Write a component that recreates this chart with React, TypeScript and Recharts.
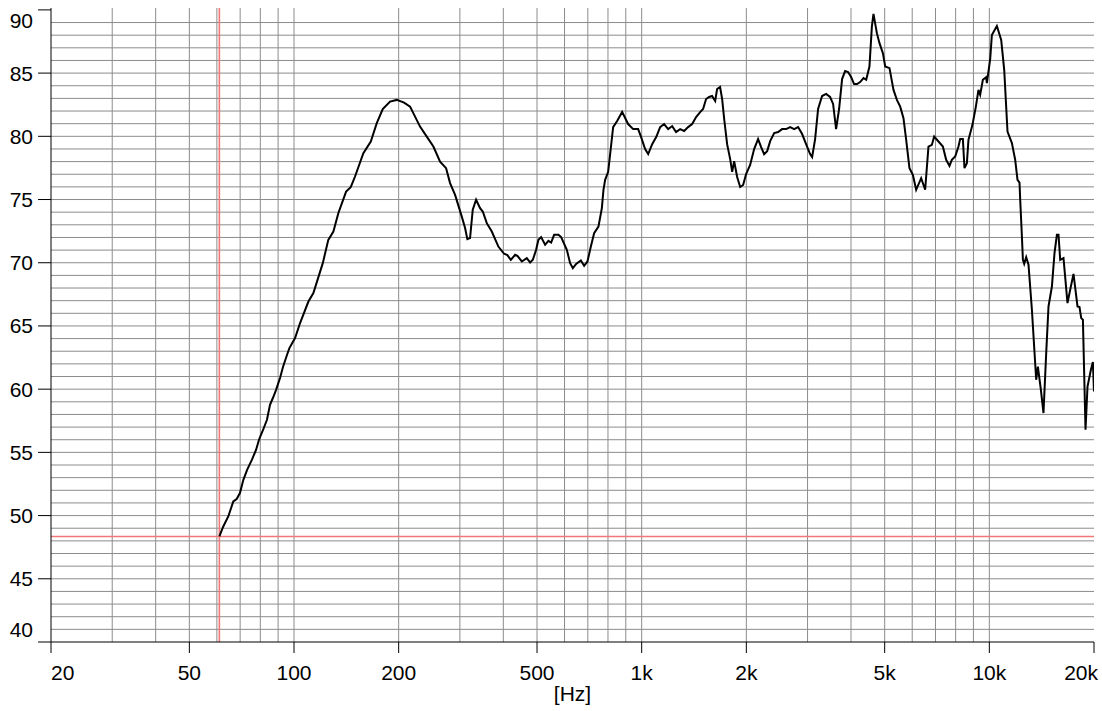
import React from 'react';
import {
  LineChart,
  Line,
  XAxis,
  YAxis,
  CartesianGrid,
  ReferenceLine,
} from 'recharts';

// frequency [Hz] and level [dB]
const freqs = [
  61, 62.6, 64.7, 66.9, 68.4, 69.9, 71.5, 73.3, 75.7, 77.8, 79.3, 81.5, 83.6, 85.3, 87, 88.8,
  91.2, 93, 95.5, 97, 100.7, 104.1, 110, 113.7, 121, 125.5, 129.8, 134.1, 141.2, 145.6, 149.8,
  158.3, 166.3, 173, 180, 188.9, 197.5, 207.3, 215.7, 230.4, 240.9, 251.7, 263.1, 273.8, 281.1,
  290.6, 303.8, 310.5, 315.2, 320.9, 326.7, 334, 342.9, 349.1, 358.5, 370.6, 387.1, 402, 410.9,
  420.3, 432.5, 439.1, 452.1, 467.3, 477.7, 486.3, 497, 504.7, 513.8, 527.6, 539.2, 549, 560,
  576.2, 586.6, 609.1, 622.6, 633.9, 647.9, 668.4, 683.2, 698.3, 714.2, 729.9, 751, 768.2, 776.4,
  785.1, 800.9, 827.8, 850, 878.6, 914.2, 945, 976.8, 996.4, 1023, 1044, 1072, 1101, 1130, 1160,
  1192, 1224, 1256, 1290, 1325, 1360, 1397, 1434, 1473, 1502, 1532, 1563, 1594, 1627, 1648, 1681,
  1704, 1727, 1761, 1797, 1821, 1845, 1882, 1920, 1958, 1997, 2051, 2106, 2162, 2206, 2250, 2296,
  2342, 2405, 2469, 2535, 2604, 2673, 2745, 2818, 2894, 2971, 3051, 3092, 3154, 3217, 3303, 3392,
  3483, 3553, 3624, 3697, 3771, 3847, 3924, 4003, 4083, 4165, 4249, 4346, 4424, 4520, 4593, 4642,
  4748, 4831, 4941, 5017, 5162, 5301, 5421, 5541, 5663, 5765, 5892, 6026, 6159, 6366, 6537, 6682,
  6834, 6939, 7140, 7351, 7513, 7679, 7802, 7975, 8151, 8243, 8392, 8481, 8617, 8709, 8942, 9146,
  9305, 9410, 9580, 9792, 9838, 10055, 10169, 10512, 10817, 11035, 11278, 11611, 11868, 12050,
  12211, 12268, 12407, 12489, 12597, 12765, 12961, 13256, 13638, 13792, 14069, 14314, 14573,
  14797, 15134, 15396, 15643, 15810, 15989, 16342, 16780, 17083, 17461, 17930, 18169, 18375,
  18583, 18907, 19158, 19594, 19854, 20000,
];

const spl = [
  48.35, 49.14, 49.93, 51.12, 51.31, 51.78, 52.83, 53.62, 54.42, 55.21, 56.0, 56.79, 57.58, 58.76,
  59.32, 59.95, 60.9, 61.77, 62.72, 63.25, 64.04, 65.23, 66.93, 67.6, 69.97, 71.81, 72.47, 73.92,
  75.63, 75.98, 76.82, 78.67, 79.59, 81.04, 82.15, 82.75, 82.88, 82.67, 82.35, 80.77, 79.98, 79.19,
  78.0, 77.48, 76.3, 75.37, 73.65, 72.74, 71.87, 71.95, 74.19, 74.98, 74.32, 74.05, 73.13, 72.47,
  71.28, 70.71, 70.6, 70.23, 70.63, 70.55, 70.1, 70.37, 70.02, 70.23, 71.02, 71.81, 72.03, 71.42,
  71.73, 71.6, 72.21, 72.21, 72.03, 71.02, 69.97, 69.57, 69.91, 70.18, 69.76, 70.1, 71.28, 72.34,
  72.86, 74.32, 75.77, 76.56, 77.19, 80.73, 81.21, 81.93, 80.97, 80.57, 80.57, 79.94, 78.99, 78.59,
  79.38, 79.94, 80.73, 80.97, 80.57, 80.81, 80.34, 80.57, 80.42, 80.73, 80.97, 81.52, 81.92, 82.16,
  82.95, 83.11, 83.19, 82.79, 83.74, 83.9, 82.95, 81.37, 79.38, 78.2, 77.19, 78.04, 76.78, 75.99,
  76.15, 77.02, 77.73, 78.99, 79.78, 79.15, 78.59, 78.83, 79.62, 80.26, 80.34, 80.57, 80.57, 80.73,
  80.57, 80.73, 80.18, 79.38, 78.59, 78.36, 79.78, 82.16, 83.19, 83.35, 83.11, 82.56, 80.57, 82.16,
  84.53, 85.16, 85.08, 84.69, 84.13, 84.13, 84.29, 84.6, 84.47, 85.52, 88.68, 89.68, 88.16, 87.37,
  86.58, 85.52, 85.39, 83.67, 82.88, 82.35, 81.44, 79.72, 77.48, 76.95, 75.77, 76.69, 75.77, 79.19,
  79.32, 79.98, 79.59, 79.19, 78.14, 77.66, 78.14, 78.4, 79.19, 79.78, 79.78, 77.48, 77.88, 79.72,
  80.91, 82.35, 83.67, 83.28, 84.47, 84.68, 84.2, 86.1, 88.02, 88.73, 87.63, 85.26, 80.38, 79.46,
  78.14, 76.56, 76.34, 74.98, 72.07, 70.23, 69.91, 70.44, 69.84, 66.28, 60.74, 61.79, 59.95, 58.11,
  62.85, 66.54, 68.12, 70.76, 72.21, 72.21, 70.23, 70.37, 66.81, 67.86, 69.12, 66.54, 66.49, 65.62,
  65.49, 56.79, 60.21, 61.53, 62.14, 59.82,
];

const xTicks = [20, 50, 100, 200, 500, 1000, 2000, 5000, 10000, 20000];
const xTickLabels = ['20', '50', '100', '200', '500', '1k', '2k', '5k', '10k', '20k'];
const yTicks = [40, 45, 50, 55, 60, 65, 70, 75, 80, 85, 90];

// grid: every decade step on x, every dB on y
const xGrid = [
  30, 40, 50, 60, 70, 80, 90, 100, 200, 300, 400, 500, 600, 700, 800, 900, 1000, 2000, 3000,
  4000, 5000, 6000, 7000, 8000, 9000, 10000,
];
const yGrid = Array.from({ length: 49 }, (_, i) => 41 + i);

const cursorFreq = 61;
const cursorLevel = 48.35;

const data = freqs.map((f, i) => ({ f, spl: spl[i] }));

const FONT = '"Liberation Sans", Arial, sans-serif';

const XTick = (props: any) => {
  const { x, y, payload, index } = props;
  const label = xTickLabels[xTicks.indexOf(payload.value)] ?? String(payload.value);
  let anchor: 'start' | 'middle' | 'end' = 'middle';
  let dx = 0;
  if (index === 0) anchor = 'start';
  if (payload.value === 20000) {
    anchor = 'end';
    dx = 4;
  }
  return (
    <text x={x + dx} y={y + 25} textAnchor={anchor} fontSize={21} fontFamily={FONT} fill="#000">
      {label}
    </text>
  );
};

const YTick = (props: any) => {
  const { x, y, payload } = props;
  let dy = 7.5;
  if (payload.value === 90) dy = 18;
  if (payload.value === 40) dy = -5.5;
  return (
    <text x={x} y={y + dy} textAnchor="end" fontSize={21} fontFamily={FONT} fill="#000">
      {payload.value}
    </text>
  );
};

export default function App() {
  return (
    <div style={{ position: 'absolute', left: 0, top: 0, width: 1102, height: 711, background: '#fff' }}>
      <LineChart
        width={1102}
        height={711}
        data={data}
        margin={{ top: 8, right: 8, bottom: 0, left: 0 }}
      >
        <CartesianGrid
          stroke="#8c8c8c"
          strokeWidth={1}
          horizontalValues={yGrid}
          verticalValues={xGrid}
          syncWithTicks={false}
        />
        <XAxis
          dataKey="f"
          type="number"
          scale="log"
          domain={[20, 20000]}
          ticks={xTicks}
          interval={0}
          allowDataOverflow
          height={69}
          tickSize={11}
          tickMargin={2}
          axisLine={{ stroke: '#000' }}
          tickLine={{ stroke: '#000' }}
          tick={<XTick />}
          label={{ value: '[Hz]', position: 'insideBottom', offset: 10, fontSize: 21, fill: '#000', fontFamily: FONT }}
        />
        <YAxis
          type="number"
          domain={[40, 90.15]}
          ticks={yTicks}
          interval={0}
          allowDataOverflow
          width={51}
          tickSize={13}
          tickMargin={5}
          axisLine={{ stroke: '#000' }}
          tickLine={{ stroke: '#000' }}
          tick={<YTick />}
        />
        <ReferenceLine x={cursorFreq} stroke="#f27878" strokeWidth={1.6} />
        <ReferenceLine y={cursorLevel} stroke="#f27878" strokeWidth={1.6} />
        <Line
          type="linear"
          dataKey="spl"
          stroke="#000"
          strokeWidth={2}
          dot={false}
          isAnimationActive={false}
        />
      </LineChart>
    </div>
  );
}
